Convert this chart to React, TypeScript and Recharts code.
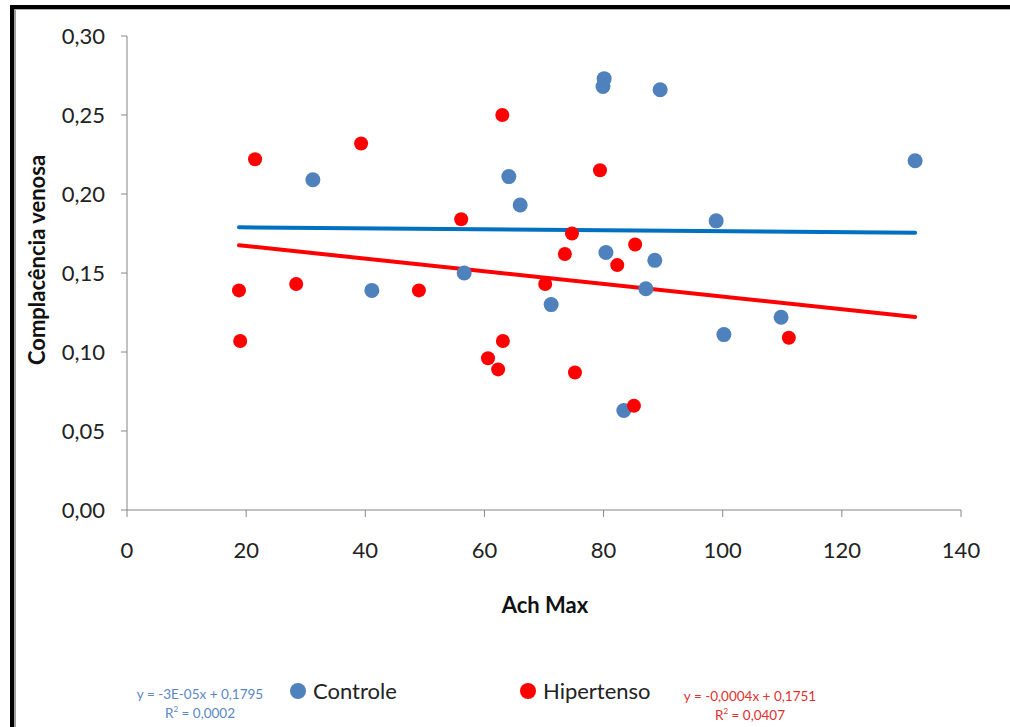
import React from "react";
import {
    ScatterChart,
    Scatter,
    XAxis,
    YAxis,
    ReferenceLine
} from "recharts";

// Controle group
const controleAch = [31.2, 41.1, 56.6, 64.1, 66.0, 71.2, 80.1, 79.9, 80.4, 89.5, 88.6, 87.1, 83.4, 98.9, 100.2, 109.8, 132.3];
const controleComp = [0.209, 0.139, 0.150, 0.211, 0.193, 0.130, 0.273, 0.268, 0.163, 0.266, 0.158, 0.140, 0.063, 0.183, 0.111, 0.122, 0.221];

// Hipertenso group
const hiperAch = [21.5, 18.8, 19.0, 28.4, 39.3, 49.0, 56.1, 63.0, 60.6, 62.3, 63.1, 70.2, 73.5, 74.7, 75.2, 79.4, 82.3, 85.3, 85.1, 111.1];
const hiperComp = [0.222, 0.139, 0.107, 0.143, 0.232, 0.139, 0.184, 0.250, 0.096, 0.089, 0.107, 0.143, 0.162, 0.175, 0.087, 0.215, 0.155, 0.168, 0.066, 0.109];

// linear trendlines (slope, intercept) and the x span they cover
const controleFit = { slope: -0.00003, intercept: 0.1795, r2: "0,0002", label: "y = -3E-05x + 0,1795" };
const hiperFit = { slope: -0.0004, intercept: 0.1751, r2: "0,0407", label: "y = -0,0004x + 0,1751" };
const trendSpan = [18.8, 132.3];

const xTicks = [0, 20, 40, 60, 80, 100, 120, 140];
const yTicks = [0, 0.05, 0.1, 0.15, 0.2, 0.25, 0.3];

const BLUE = "#4f81bd";
const RED = "#ff0000";
const FONT = "Lato, 'Open Sans', sans-serif";

const controleData = controleAch.map((x, i) => ({ x, y: controleComp[i] }));
const hiperData = hiperAch.map((x, i) => ({ x, y: hiperComp[i] }));

const fitSegment = (fit: { slope: number; intercept: number }) =>
    trendSpan.map((x) => ({ x, y: fit.slope * x + fit.intercept }));

const fmtComma = (v: number) => v.toFixed(2).replace(".", ",");

export default function App() {
    return (
        <div style={{ position: "absolute", left: 0, top: 0, width: 1010, height: 727, background: "#fff", overflow: "hidden", fontFamily: FONT }}>
            {/* frame */}
            <div style={{ position: "absolute", left: 10, top: 5, width: 1100, height: 800, borderLeft: "4px solid #000", borderTop: "4px solid #000" }} />
            <div style={{ position: "absolute", left: 14, top: 9, width: 1100, height: 800, borderLeft: "2px solid #a0a0a0", borderTop: "1px solid #b0b0b0" }} />

            <ScatterChart
                width={1010}
                height={727}
                margin={{ top: 36, right: 49, bottom: 177, left: 57 }}
                style={{ position: "absolute", left: 0, top: 0 }}
            >
                <XAxis
                    type="number"
                    dataKey="x"
                    domain={[0, 140]}
                    ticks={xTicks}
                    height={40}
                    tickSize={7}
                    tickMargin={25}
                    axisLine={{ stroke: "#868686" }}
                    tickLine={{ stroke: "#868686" }}
                    tick={{ fill: "#222", fontSize: 22, fontFamily: FONT }}
                    label={{
                        content: () => (
                            <text x={545} y={613} textAnchor="middle" fontSize={22} fontWeight="bold" fontFamily={FONT} fill="#111">
                                Ach Max
                            </text>
                        )
                    }}
                />
                <YAxis
                    type="number"
                    dataKey="y"
                    domain={[0, 0.3]}
                    ticks={yTicks}
                    width={70}
                    tickSize={6}
                    tickMargin={16}
                    tickFormatter={fmtComma}
                    axisLine={{ stroke: "#868686" }}
                    tickLine={{ stroke: "#868686" }}
                    tick={{ fill: "#222", fontSize: 22, fontFamily: FONT }}
                    label={{
                        content: () => (
                            <text
                                x={36}
                                y={260}
                                transform="rotate(-90 36 260)"
                                textAnchor="middle"
                                dominantBaseline="central"
                                fontSize={22}
                                fontWeight="bold"
                                fontFamily={FONT}
                                fill="#111"
                            >
                                Complacência venosa
                            </text>
                        )
                    }}
                />
                <Scatter name="Controle" data={controleData} fill={BLUE} isAnimationActive={false} shape={(p: any) => <circle cx={p.cx} cy={p.cy} r={7.5} fill={BLUE} />} />
                <Scatter name="Hipertenso" data={hiperData} fill={RED} isAnimationActive={false} shape={(p: any) => <circle cx={p.cx} cy={p.cy} r={7} fill={RED} />} />
                <ReferenceLine segment={fitSegment(controleFit)} stroke="#0070c0" strokeWidth={4} strokeLinecap="round" ifOverflow="visible" />
                <ReferenceLine segment={fitSegment(hiperFit)} stroke={RED} strokeWidth={4} strokeLinecap="round" ifOverflow="visible" />
            </ScatterChart>

            {/* legend with trendline equations */}
            <div style={{ position: "absolute", left: 120, top: 685, width: 160, textAlign: "center", color: "#5a87c5", fontSize: 13.5, lineHeight: "19px" }}>
                <div>{controleFit.label}</div>
                <div>R<sup style={{ fontSize: 8, verticalAlign: "6px", lineHeight: 0 }}>2</sup> = {controleFit.r2}</div>
            </div>
            <div style={{ position: "absolute", left: 290, top: 677, display: "flex", alignItems: "center", color: "#222", fontSize: 22 }}>
                <span style={{ width: 16, height: 16, borderRadius: "50%", background: BLUE, display: "inline-block", marginRight: 7 }} />
                Controle
            </div>
            <div style={{ position: "absolute", left: 520, top: 677, display: "flex", alignItems: "center", color: "#222", fontSize: 22 }}>
                <span style={{ width: 16, height: 16, borderRadius: "50%", background: RED, display: "inline-block", marginRight: 7 }} />
                Hipertenso
            </div>
            <div style={{ position: "absolute", left: 670, top: 687, width: 160, textAlign: "center", color: "#e0302f", fontSize: 13.5, lineHeight: "19px" }}>
                <div>{hiperFit.label}</div>
                <div>R<sup style={{ fontSize: 8, verticalAlign: "6px", lineHeight: 0 }}>2</sup> = {hiperFit.r2}</div>
            </div>
        </div>
    );
}
